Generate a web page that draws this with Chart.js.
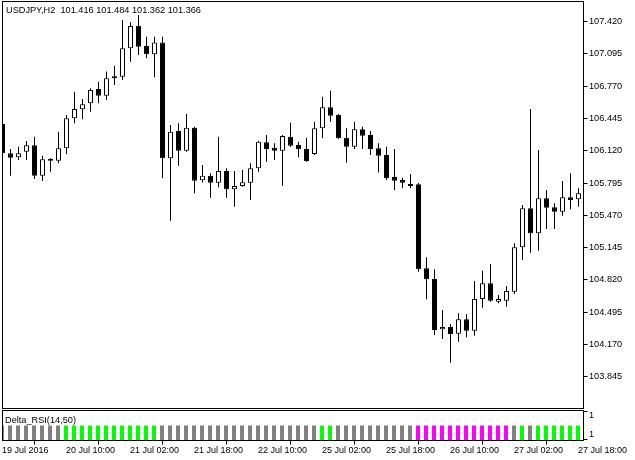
<!DOCTYPE html>
<html>
<head>
<meta charset="utf-8">
<script src="https://cdn.jsdelivr.net/npm/chart.js@4.4.0/dist/chart.umd.min.js"></script>
<style>
html,body{margin:0;padding:0;background:#fff;}
#wrap{position:relative;width:635px;height:460px;overflow:hidden;background:#fff;}
canvas{position:absolute;left:0;display:block;}
.lbl{position:absolute;font-family:'Liberation Sans',Arial,sans-serif;font-size:9.2px;line-height:10px;color:#000;white-space:pre;}
</style>
</head>
<body>
<div id="wrap">
  <canvas id="main" width="635" height="409" style="top:0"></canvas>
  <canvas id="ind" width="635" height="51" style="top:409px"></canvas>
  <div class="lbl" style="left:6px;top:5px">USDJPY,H2  101.416 101.484 101.362 101.366</div>
  <div class="lbl" style="left:5px;top:415px">Delta_RSI(14,50)</div>
</div>
<script>
// ---- data (H2 candles, index 0 = 19 Jul 18:00) ----
const candleIndex = [0,1,2,3,4,5,6,7,8,9,10,11,12,13,14,15,16,17,18,19,20,21,22,23,24,25,26,27,28,29,30,31,32,33,34,35,36,37,38,39,40,41,42,43,44,45,46,47,48,49,50,51,52,53,54,55,56,57,58,59,60,61,62,63,64,65,66,67,68,69,70,71,72];
const openP  = [106.390,106.095,106.054,106.111,106.175,105.869,106.037,106.020,106.145,106.447,106.538,106.598,106.742,106.675,106.850,106.866,107.152,107.380,107.175,107.092,107.209,106.044,106.319,106.121,106.353,105.823,105.869,105.799,105.917,105.732,105.766,105.799,105.944,106.206,106.151,106.121,106.262,106.178,106.138,106.088,106.347,106.558,106.480,106.252,106.161,106.336,106.279,106.145,106.078,105.856,105.826,105.786,105.783,104.937,104.829,104.322,104.346,104.278,104.423,104.308,104.628,104.786,104.601,104.611,104.701,105.148,105.541,105.289,105.642,105.551,105.507,105.652,105.632];
const highP  = [106.420,106.138,106.161,106.219,106.262,106.071,106.044,106.312,106.480,106.715,106.642,106.749,106.816,106.917,106.977,107.437,107.414,107.487,107.269,107.269,107.269,106.380,106.397,106.491,106.363,105.977,105.893,106.262,105.944,105.917,105.927,105.994,106.222,106.279,106.196,106.279,106.403,106.212,106.252,106.413,106.665,106.725,106.490,106.347,106.413,106.363,106.319,106.196,106.161,106.138,105.849,105.886,105.796,105.047,104.927,104.517,104.376,104.483,104.477,104.809,104.913,104.980,104.668,104.758,105.188,105.574,106.541,106.128,105.725,105.591,105.816,105.893,105.742];
const lowP   = [106.070,105.869,106.027,106.027,105.836,105.816,105.910,105.994,106.085,106.397,106.437,106.514,106.598,106.632,106.783,106.833,107.017,107.085,107.051,106.860,105.843,105.416,105.970,106.111,105.692,105.800,105.648,105.752,105.648,105.557,105.759,105.625,105.910,106.010,106.027,105.769,106.161,106.054,106.010,106.078,106.246,106.413,106.240,106.000,106.138,106.138,106.078,105.900,105.826,105.725,105.742,105.745,104.903,104.625,104.265,104.225,103.986,104.198,104.242,104.258,104.540,104.600,104.584,104.550,104.678,105.021,105.094,105.114,105.332,105.332,105.466,105.531,105.557];
const closeP = [106.095,106.050,106.095,106.175,105.869,106.034,106.020,106.145,106.447,106.541,106.588,106.732,106.675,106.850,106.870,107.152,107.377,107.168,107.092,107.209,106.044,106.312,106.121,106.353,105.819,105.869,105.799,105.917,105.732,105.766,105.803,105.944,106.212,106.138,106.121,106.269,106.171,106.135,106.017,106.347,106.558,106.473,106.246,106.161,106.336,106.272,106.138,106.071,105.843,105.819,105.799,105.766,104.927,104.826,104.316,104.346,104.275,104.423,104.308,104.628,104.786,104.611,104.628,104.708,105.148,105.541,105.289,105.642,105.547,105.507,105.652,105.625,105.692];

// Delta_RSI histogram: 0 = neutral (gray), 1 = up (lime), 2 = down (magenta)
const deltaValues = [1,1,1,1,1,1,1,1,1,1,1,1,1,1,1,1,1,1,1,1,1,1,1,1,1,1,1,1,1,1,1,1,1,1,1,1,1,1,1,1,1,1,1,1,1,1,1,1,1,1,1,1,1,1,1,1,1,1,1,1,1,1,1,1,1,1,1,1,1,1,1,1,1];
const deltaState  = [0,0,0,0,0,0,0,0,1,1,1,1,1,1,1,1,1,1,1,1,0,0,0,0,0,0,0,0,0,0,0,0,0,0,0,0,0,0,0,0,1,1,0,0,0,0,0,0,0,0,0,0,2,2,2,2,2,2,2,2,2,2,2,2,0,1,0,1,1,1,1,1,1];

// axes
const priceTicks = [103.845,104.170,104.495,104.820,105.145,105.470,105.795,106.120,106.445,106.770,107.095,107.420];
const timeTickIndex  = [0,8,16,24,32,40,48,56,64,72];
const timeTickLabels = ['19 Jul 2016','20 Jul 10:00','21 Jul 02:00','21 Jul 18:00','22 Jul 10:00','25 Jul 02:00','25 Jul 18:00','26 Jul 10:00','27 Jul 02:00','27 Jul 18:00'];
const deltaTickLabels = ['1','1'];

// ---- build ----
const FONT = "'Liberation Sans',Arial,sans-serif";
Chart.defaults.font.family = FONT;
Chart.defaults.font.size = 9.2;
Chart.defaults.color = '#000';

const framePlugin = {
  id: 'frame',
  afterDraw(chart) {
    const {ctx, chartArea: a} = chart;
    ctx.save();
    ctx.strokeStyle = '#000';
    ctx.lineWidth = 1;
    ctx.strokeRect(a.left, a.top, a.right - a.left, a.bottom - a.top);
    ctx.restore();
  }
};
const noPad = s => { s.paddingTop = 0; s.paddingBottom = 0; s.paddingLeft = 0; s.paddingRight = 0; };

const bodies = candleIndex.map((k, i) => ({x: k, y: [openP[i], closeP[i]]}));
const wicks  = candleIndex.map((k, i) => ({x: k, y: [lowP[i], highP[i]]}));
const bodyColors = candleIndex.map((k, i) => closeP[i] >= openP[i] ? '#ffffff' : '#000000');

new Chart(document.getElementById('main'), {
  type: 'bar',
  data: {
    datasets: [
      {label: 'body', data: bodies, backgroundColor: bodyColors, borderColor: '#000', borderWidth: 1,
       borderSkipped: false, barThickness: 5, grouped: false, inflateAmount: 0, order: 0},
      {label: 'wick', data: wicks, backgroundColor: '#000', borderWidth: 0,
       barThickness: 1, grouped: false, inflateAmount: 0, order: 1}
    ]
  },
  options: {
    responsive: false, animation: false, events: [],
    layout: {padding: {left: 2.5, top: 1.5, right: 0, bottom: 0.5}},
    plugins: {legend: {display: false}, tooltip: {enabled: false}},
    scales: {
      x: {type: 'linear', display: false, min: 0, max: 72.625, offset: false},
      y: {
        type: 'linear', position: 'right', min: 103.525, max: 107.623,
        afterBuildTicks: s => { s.ticks = priceTicks.map(v => ({value: v})); },
        afterFit: s => { s.width = 51.5; noPad(s); },
        grid: {drawOnChartArea: false, drawTicks: true, tickLength: 4, tickColor: '#000'},
        border: {display: false},
        ticks: {padding: 1.5, autoSkip: false, color: '#000', callback: v => Number(v).toFixed(3)}
      }
    }
  },
  plugins: [framePlugin]
});

const deltaColorMap = ['#808080', '#00ff00', '#ff00ff'];
const deltaData = candleIndex.map((k, i) => ({x: k, y: deltaValues[i]}));
const deltaTickValues = [1.933, 1.7, 0.4, 0.0667];

new Chart(document.getElementById('ind'), {
  type: 'bar',
  data: {
    datasets: [
      {label: 'Delta_RSI', data: deltaData, backgroundColor: deltaState.map(s => deltaColorMap[s]),
       borderWidth: 0, barThickness: 4, grouped: false, inflateAmount: 0}
    ]
  },
  options: {
    responsive: false, animation: false, events: [],
    layout: {padding: {left: 2.5, top: 1.5, right: 0, bottom: 0}},
    plugins: {legend: {display: false}, tooltip: {enabled: false}},
    scales: {
      x: {
        type: 'linear', position: 'bottom', min: 0.0625, max: 72.6875, offset: false,
        afterBuildTicks: s => { s.ticks = timeTickIndex.map(v => ({value: v})); },
        afterFit: s => { s.height = 19.5; noPad(s); },
        grid: {drawOnChartArea: false, drawTicks: true, tickLength: 4, tickColor: '#000'},
        border: {display: false},
        ticks: {align: 'start', autoSkip: false, maxRotation: 0, minRotation: 0, padding: 1, color: '#000',
                font: {size: 9}, callback: v => timeTickLabels[timeTickIndex.indexOf(v)]}
      },
      y: {
        type: 'linear', position: 'right', min: 0, max: 2,
        afterBuildTicks: s => { s.ticks = deltaTickValues.map(v => ({value: v})); },
        afterFit: s => { s.width = 51.5; noPad(s); },
        grid: {drawOnChartArea: false, drawTicks: true, tickLength: 4,
               tickColor: ctx => (ctx.index === 0 || ctx.index === 3) ? '#000' : 'rgba(0,0,0,0)'},
        border: {display: false},
        ticks: {padding: 1.5, autoSkip: false, color: '#000',
                callback: (v, i) => (i === 1 ? deltaTickLabels[0] : (i === 2 ? deltaTickLabels[1] : ''))}
      }
    }
  },
  plugins: [framePlugin]
});
</script>
</body>
</html>
